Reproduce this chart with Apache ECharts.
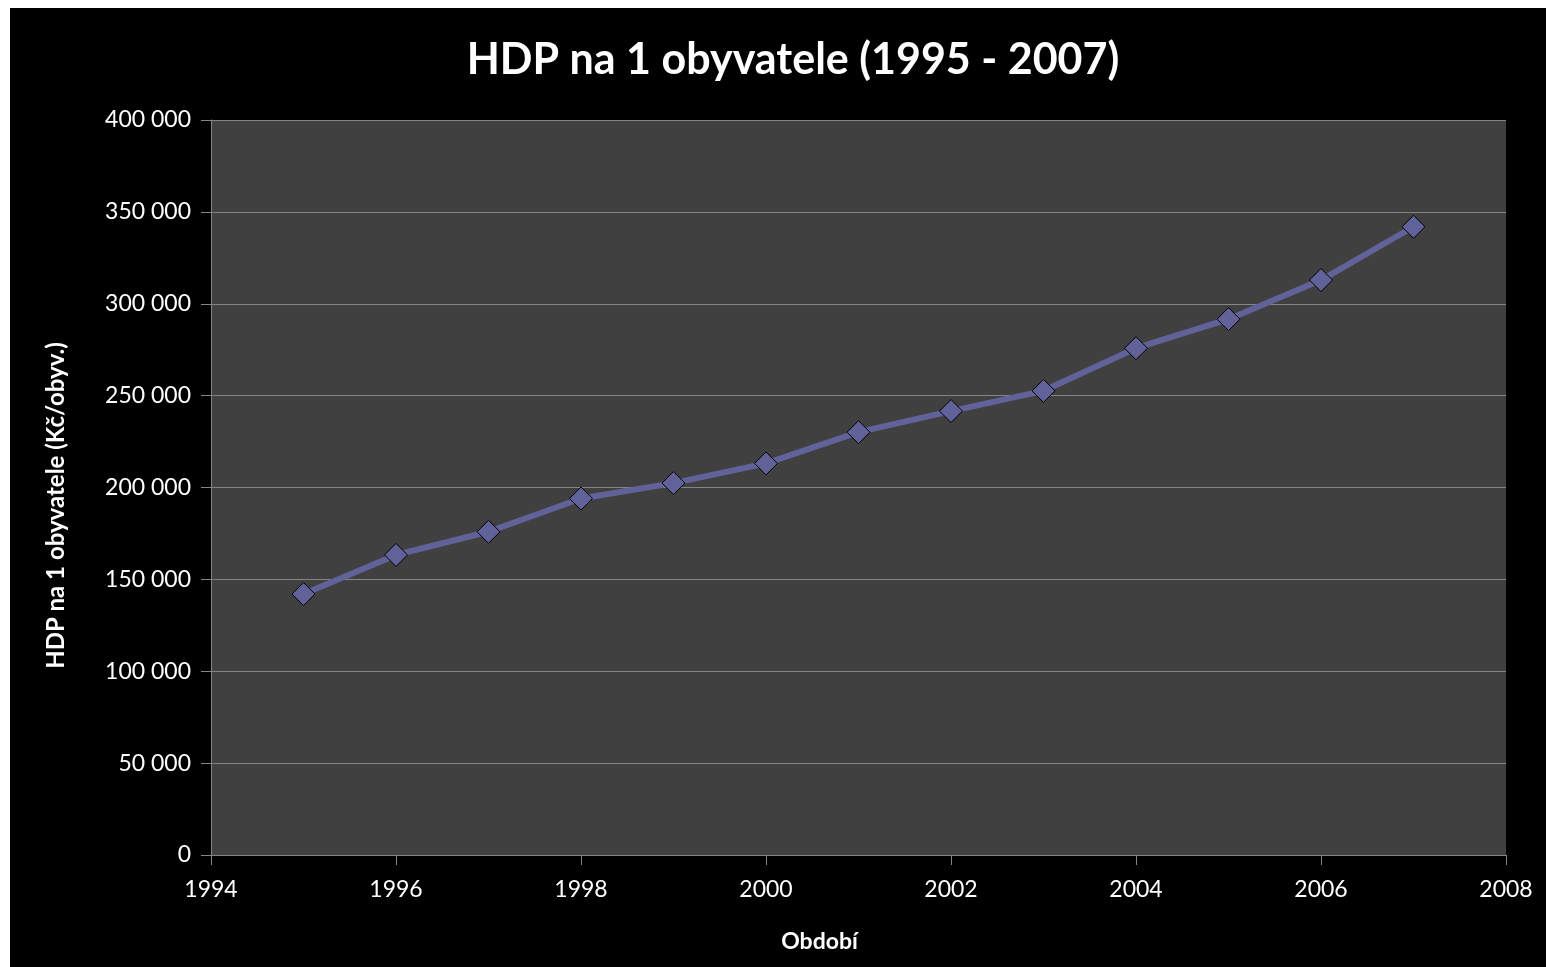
<!DOCTYPE html>
<html>
<head>
<meta charset="utf-8">
<script src="https://cdn.jsdelivr.net/npm/echarts@6/dist/echarts.min.js"></script>
<style>
  html, body { margin: 0; padding: 0; background: #ffffff; width: 1546px; height: 967px; overflow: hidden; }
  #chart { position: absolute; left: 10px; top: 8px; width: 1536px; height: 959px; background: #000; }
</style>
</head>
<body>
<div id="chart"></div>
<script>
const years = [1995, 1996, 1997, 1998, 1999, 2000, 2001, 2002, 2003, 2004, 2005, 2006, 2007];
const hdp = [142000, 163300, 175900, 194000, 202400, 213100, 230100, 241600, 252600, 275800, 291600, 312900, 341900];
const titleText = 'HDP na 1 obyvatele (1995 - 2007)';
const yName = 'HDP na 1 obyvatele (Kč/obyv.)';
const xName = 'Období';

const fmt = v => String(v).replace(/\B(?=(\d{3})+(?!\d))/g, ' ');
const font = 'Lato, "Open Sans", sans-serif';

const chart = echarts.init(document.getElementById('chart'));
chart.setOption({
  backgroundColor: '#000000',
  animation: false,
  title: {
    text: titleText,
    left: 778,
    textAlign: 'center',
    top: 26,
    textStyle: { color: '#ffffff', fontFamily: font, fontWeight: 'bold', fontSize: 43 }
  },
  grid: {
    left: 201, right: 40, top: 112, bottom: 112,
    show: true, backgroundColor: '#404040', borderWidth: 0
  },
  xAxis: {
    type: 'value', min: 1994, max: 2008, interval: 2,
    name: xName, nameLocation: 'middle', nameGap: 75,
    nameTextStyle: { color: '#ffffff', fontFamily: font, fontWeight: 'bold', fontSize: 23, padding: [0, 78, 0, 0] },
    axisLine: { show: true, lineStyle: { color: '#868686', width: 1 } },
    axisTick: { show: true, length: 10, lineStyle: { color: '#868686' } },
    axisLabel: { color: '#ffffff', fontFamily: font, fontSize: 23, margin: 23, formatter: v => String(v) },
    splitLine: { show: false }
  },
  yAxis: {
    type: 'value', min: 0, max: 400000, interval: 50000,
    name: yName, nameLocation: 'middle', nameGap: 143, nameRotate: 90,
    nameTextStyle: { color: '#ffffff', fontFamily: font, fontWeight: 'bold', fontSize: 24, padding: [0, 36, 0, 0] },
    axisLine: { show: true, lineStyle: { color: '#868686', width: 1 } },
    axisTick: { show: true, length: 10, lineStyle: { color: '#868686' } },
    axisLabel: { color: '#ffffff', fontFamily: font, fontSize: 23, margin: 20, formatter: v => fmt(v) },
    splitLine: { show: true, lineStyle: { color: '#868686', width: 1 } }
  },
  series: [{
    type: 'line',
    data: years.map((y, i) => [y, hdp[i]]),
    lineStyle: { color: '#62629a', width: 6 },
    symbol: 'diamond',
    symbolSize: 23,
    itemStyle: { color: '#62629a', borderColor: '#000000', borderWidth: 1 }
  }]
});
</script>
</body>
</html>
